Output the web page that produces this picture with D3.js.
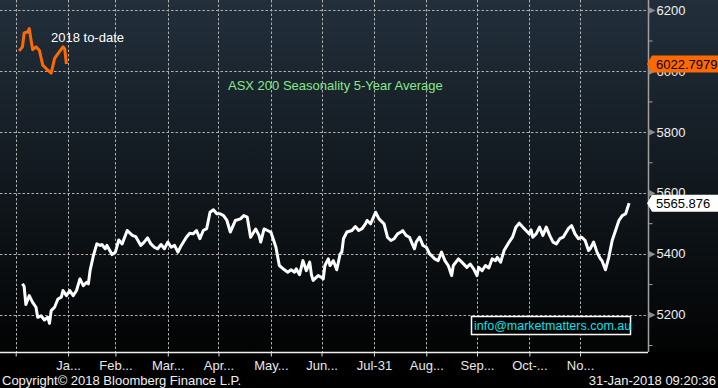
<!DOCTYPE html>
<html>
<head>
<meta charset="utf-8">
<script src="https://cdn.jsdelivr.net/npm/d3@7"></script>
<style>
  html, body { margin: 0; padding: 0; background: #000; }
  svg { display: block; font-family: "Liberation Sans", Arial, sans-serif; }
</style>
</head>
<body>
<svg width="718" height="388"></svg>
<script>
// day 0 = 31 Dec 2017, ticks sit on month ends
const monthDays = [0, 31, 59, 90, 120, 151, 181, 212, 243, 273, 304, 334];
const monthLabels = ['', 'Ja...', 'Feb...', 'Mar...', 'Apr...', 'May...', 'Jun...', 'Jul-31', 'Aug...', 'Sep...', 'Oct-...', 'No...'];
const majorValues = [5200, 5400, 5600, 5800, 6000, 6200];
const minorValues = [5100, 5300, 5500, 5700, 5900, 6100];

// 5-year seasonal average
const avgDays = [4, 5, 6, 8, 10, 12, 13, 15, 17, 19, 20, 21, 23, 25, 27, 28, 30, 32, 34, 36, 38, 40, 42, 43, 44, 46, 48, 50, 51, 53,
  54, 57, 59, 61, 63, 66, 69, 71, 74, 76, 78, 80, 82, 84, 86, 88, 90, 92, 94, 96, 98, 101, 103, 105, 107, 109, 111, 113, 115, 117,
  119, 121, 123, 125, 127, 130, 133, 135, 137, 139, 142, 144, 145, 147, 149, 151, 154, 156, 159, 161, 163, 165, 166, 168, 170, 172,
  174, 175, 176, 179, 181, 182, 183, 185, 186, 188, 190, 192, 193, 194, 196, 199, 201, 203, 205, 207, 208, 210, 213, 215, 218, 220,
  222, 224, 226, 228, 229, 231, 233, 236, 237, 239, 241, 243, 245, 248, 250, 252, 254, 256, 258, 259, 262, 264, 267, 269, 271, 273,
  274, 276, 278, 280, 282, 284, 285, 287, 289, 292, 294, 296, 298, 301, 302, 304, 305, 306, 308, 310, 312, 314, 316, 318, 320, 322,
  324, 327, 329, 331, 333, 335, 337, 339, 340, 342, 344, 346, 347, 349, 351, 353, 355, 357, 359, 361, 363];
const avgValues = [5301, 5292, 5233, 5262, 5240, 5224, 5191, 5196, 5182, 5191, 5171, 5213, 5224, 5251, 5257, 5279, 5262, 5279, 5262, 5279,
  5317, 5295, 5306, 5301, 5344, 5394, 5432, 5427, 5430, 5416, 5427, 5397, 5405, 5445, 5432, 5476, 5460, 5456, 5427, 5438, 5452, 5432,
  5421, 5416, 5430, 5416, 5438, 5421, 5427, 5405, 5427, 5454, 5467, 5465, 5476, 5449, 5476, 5482, 5536, 5544, 5531, 5531, 5525, 5509,
  5471, 5509, 5514, 5525, 5520, 5454, 5481, 5460, 5438, 5481, 5476, 5471, 5421, 5361, 5347, 5339, 5347, 5339, 5350, 5331, 5377, 5344,
  5372, 5331, 5312, 5328, 5322, 5317, 5361, 5383, 5361, 5377, 5347, 5399, 5405, 5449, 5471, 5476, 5489, 5476, 5482, 5498, 5509, 5498,
  5536, 5514, 5498, 5454, 5443, 5449, 5465, 5471, 5476, 5460, 5454, 5416, 5438, 5454, 5427, 5421, 5399, 5383, 5377, 5405, 5377, 5361,
  5328, 5361, 5383, 5372, 5355, 5366, 5350, 5328, 5355, 5344, 5361, 5353, 5383, 5377, 5388, 5372, 5410, 5438, 5454, 5487, 5500, 5482,
  5476, 5465, 5478, 5454, 5465, 5487, 5460, 5487, 5460, 5438, 5432, 5449, 5454, 5482, 5492, 5465, 5449, 5454, 5443, 5410, 5416, 5438,
  5405, 5383, 5377, 5347, 5388, 5443, 5476, 5509, 5525, 5531, 5565.876];

// 2018 to date
const ytdDays = [2, 4, 5, 7, 8, 10, 12, 14, 16, 18, 21, 23, 25, 28, 29, 30];
const ytdValues = [6066, 6079, 6125, 6128, 6139, 6070, 6079, 6068, 6019, 6008, 5993, 6041, 6057, 6079, 6073, 6022.7979];

const avgLastLabel = '5565.876';
const ytdLastLabel = '6022.7979';

const svg = d3.select('svg');
const plotW = 648;
const plotH = 352;

const x = d3.scaleLinear().domain([-9.3, 374.2]).range([0, plotW]);
const y = d3.scaleLinear().domain([5077, 6233]).range([plotH, 0]);

const defs = svg.append('defs');
const grad = defs.append('linearGradient')
    .attr('id', 'bg').attr('x1', 0).attr('y1', 0).attr('x2', 0).attr('y2', 1);
grad.append('stop').attr('offset', '0%').attr('stop-color', '#222f3b');
grad.append('stop').attr('offset', '100%').attr('stop-color', '#020303');

svg.append('rect').attr('width', 718).attr('height', 388).attr('fill', '#000');
svg.append('rect').attr('width', 718).attr('height', plotH).attr('fill', 'url(#bg)');

// dashed grid
const grid = svg.append('g').attr('stroke', '#b0b0b0').attr('stroke-width', 1).attr('stroke-dasharray', '2.5,2');
grid.selectAll('line.h').data(majorValues).enter().append('line')
    .attr('x1', 0).attr('x2', plotW)
    .attr('y1', d => Math.round(y(d)) + 0.5).attr('y2', d => Math.round(y(d)) + 0.5);
grid.selectAll('line.v').data(monthDays).enter().append('line')
    .attr('y1', 0).attr('y2', plotH)
    .attr('x1', d => Math.round(x(d)) + 0.5).attr('x2', d => Math.round(x(d)) + 0.5);

// bottom axis
const xAxis = svg.append('g')
    .attr('transform', `translate(0, ${plotH + 0.5})`)
    .call(d3.axisBottom(x).tickValues(monthDays).tickSize(4).tickSizeOuter(0)
        .tickFormat((d, i) => monthLabels[i]));
xAxis.select('.domain').attr('d', `M0,0H${plotW}`).attr('stroke', '#f0f0f0').attr('stroke-width', 1.5);
xAxis.selectAll('.tick line').attr('stroke', '#e0e0e0');
xAxis.selectAll('.tick text').attr('fill', '#e8e8e8').attr('font-size', 13)
    .attr('font-family', '"Liberation Sans", Arial, sans-serif').attr('y', 8);

// right axis
const yAxis = svg.append('g')
    .attr('transform', `translate(${plotW + 0.5}, 0)`)
    .call(d3.axisRight(y).tickValues(majorValues).tickSize(0).tickPadding(8).tickFormat(d3.format('d')));
yAxis.select('.domain').attr('d', `M0,0V${plotH}`).attr('stroke', '#a0a0a0').attr('stroke-width', 1.5);
yAxis.selectAll('.tick text').attr('fill', '#f0f0f0').attr('font-size', 13)
    .attr('font-family', '"Liberation Sans", Arial, sans-serif');
yAxis.selectAll('.tick').append('path')
    .attr('d', 'M0,-3.5L7,0L0,3.5Z').attr('fill', '#8c8c8c');

svg.append('g')
    .attr('transform', `translate(${plotW + 0.5}, 0)`)
    .call(d3.axisRight(y).tickValues(minorValues).tickSize(4).tickFormat(''))
    .call(g => g.select('.domain').remove())
    .selectAll('.tick line').attr('stroke', '#a0a0a0');

// series
const avgLine = d3.line()
    .x((d, i) => x(avgDays[i]))
    .y(d => y(d));
svg.append('path')
    .datum(avgValues)
    .attr('d', avgLine)
    .attr('fill', 'none')
    .attr('stroke', '#ffffff')
    .attr('stroke-width', 3)
    .attr('stroke-linejoin', 'round');

const ytdLine = d3.line()
    .x((d, i) => x(ytdDays[i]))
    .y(d => y(d));
svg.append('path')
    .datum(ytdValues)
    .attr('d', ytdLine)
    .attr('fill', 'none')
    .attr('stroke', '#ff6a00')
    .attr('stroke-width', 3)
    .attr('stroke-linejoin', 'round');

// annotations
svg.append('text')
    .attr('x', 51).attr('y', 42)
    .attr('fill', '#ffffff').attr('font-size', 13)
    .text('2018 to-date');

svg.append('text')
    .attr('x', 228).attr('y', 89.5)
    .attr('fill', '#88e888').attr('font-size', 13)
    .text('ASX 200 Seasonality 5-Year Average');

svg.append('rect')
    .attr('x', 471.5).attr('y', 316.5).attr('width', 159).attr('height', 18)
    .attr('fill', '#000').attr('stroke', '#ffffff').attr('stroke-width', 1.5);
svg.append('text')
    .attr('x', 474).attr('y', 330)
    .attr('fill', '#00e4f0').attr('font-size', 12.5)
    .text('info@marketmatters.com.au');

// last value tags
function lastTag(value, label, fill) {
    const cy = y(value);
    svg.append('path')
        .attr('d', `M${plotW - 1},${cy}L${plotW + 4},${cy - 8.5}H718V${cy + 8.5}H${plotW + 4}Z`)
        .attr('fill', fill);
    svg.append('text')
        .attr('x', plotW + 8).attr('y', cy).attr('dy', '0.36em')
        .attr('fill', '#000').attr('font-size', 13)
        .text(label);
}
lastTag(ytdValues[ytdValues.length - 1], ytdLastLabel, '#ff6a00');
lastTag(avgValues[avgValues.length - 1], avgLastLabel, '#ffffff');

// footer
svg.append('text')
    .attr('x', 2).attr('y', 385)
    .attr('fill', '#f0f0f0').attr('font-size', 13)
    .text('Copyright© 2018 Bloomberg Finance L.P.');
svg.append('text')
    .attr('x', 716).attr('y', 385).attr('text-anchor', 'end')
    .attr('fill', '#f0f0f0').attr('font-size', 13)
    .text('31-Jan-2018 09:20:36');
</script>
</body>
</html>
